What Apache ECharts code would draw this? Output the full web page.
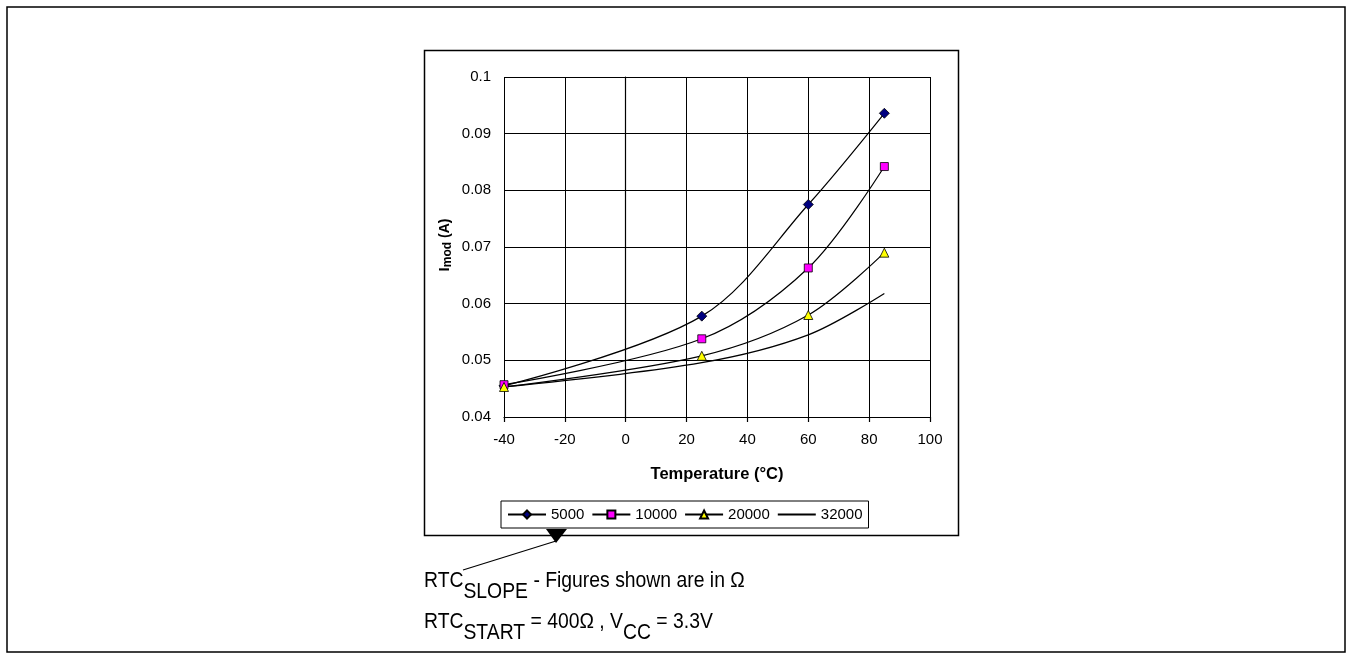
<!DOCTYPE html>
<html><head><meta charset="utf-8">
<script src="https://cdn.jsdelivr.net/npm/echarts@6/dist/echarts.min.js"></script>
<style>html,body{margin:0;padding:0;background:#fff}#c{width:1352px;height:660px}</style>
</head><body><div id="c"></div>
<script>
const temps = [-40, 25, 60, 85];
const s5000 = [0.0455, 0.0578, 0.0775, 0.0936];
const s10000 = [0.0457, 0.0538, 0.0663, 0.0842];
const s20000 = [0.0453, 0.0508, 0.0580, 0.0690];
const s32000 = [0.0453, 0.0496, 0.0545, 0.0618];
const seriesNames = ['5000', '10000', '20000', '32000'];
const xTicks = [-40, -20, 0, 20, 40, 60, 80, 100];
const yTicks = [0.04, 0.05, 0.06, 0.07, 0.08, 0.09, 0.1];

const FONT = '"Liberation Sans", Arial, sans-serif';
const pairs = arr => temps.map((t, i) => [t, arr[i]]);

const chart = echarts.init(document.getElementById('c'), null, {renderer: 'canvas'});
const lineStyle = {color: '#000', width: 1.2};
function mk(name, data, symbol, size, fill) {
  const hidden = symbol === 'none';
  return {
    name, type: 'line', data: pairs(data), smooth: 0.33,
    symbol: hidden ? 'circle' : symbol, symbolSize: hidden ? 0.1 : size, showSymbol: !hidden,
    itemStyle: hidden ? {color: 'rgba(0,0,0,0)', borderWidth: 0, opacity: 0}
                      : {color: fill, borderColor: '#000', borderWidth: 0.8},
    lineStyle, emphasis: {disabled: true}, animation: false, z: 3
  };
}
const subText = (y, sx, text) => ({
  type: 'text', x: 424, y, scaleX: sx,
  style: {
    text, verticalAlign: 'middle', fill: '#000',
    rich: {
      m: {fontSize: 22, fontFamily: FONT, lineHeight: 24, verticalAlign: 'top'},
      s: {fontSize: 22, fontFamily: FONT, lineHeight: 24, padding: [11, 0, 0, 0], verticalAlign: 'top'}
    }
  }, z: 5
});
const option = {
  animation: false,
  backgroundColor: '#fff',
  grid: {left: 504, top: 77, right: 422, bottom: 243, containLabel: false},
  xAxis: {
    type: 'value', min: -40, max: 100, interval: 20,
    axisLine: {show: true, lineStyle: {color: '#000', width: 1.2}},
    axisTick: {show: true, length: 5, lineStyle: {color: '#000', width: 1.2}},
    splitLine: {show: true, lineStyle: {color: '#000', width: 1}},
    axisLabel: {color: '#000', fontFamily: FONT, fontSize: 15, margin: 15,
      formatter: v => xTicks.includes(v) ? String(v) : ''},
    name: 'Temperature (°C)', nameLocation: 'middle', nameGap: 49,
    nameTextStyle: {color: '#000', fontFamily: FONT, fontSize: 16.5, fontWeight: 'bold'}
  },
  yAxis: {
    type: 'value', min: 0.04, max: 0.1, interval: 0.01,
    axisLine: {show: true, lineStyle: {color: '#000', width: 1.2}},
    axisTick: {show: false},
    splitLine: {show: true, lineStyle: {color: '#000', width: 1}},
    axisLabel: {color: '#000', fontFamily: FONT, fontSize: 15, margin: 13,
      formatter: v => { const t = yTicks.find(k => Math.abs(k - v) < 1e-9); return t === undefined ? '' : String(t); }}
  },
  legend: {
    show: true, left: 501, top: 501, orient: 'horizontal',
    data: seriesNames,
    itemWidth: 38, itemHeight: 10, itemGap: 7,
    padding: [6, 6, 6, 6],
    borderColor: '#000', borderWidth: 1,
    textStyle: {color: '#000', fontFamily: FONT, fontSize: 15},
    selectedMode: false
  },
  series: [
    mk('5000', s5000, 'diamond', 10, '#000080'),
    mk('10000', s10000, 'rect', 8, '#ff00ff'),
    mk('20000', s20000, 'triangle', 9, '#ffff00'),
    mk('32000', s32000, 'none', 0, null)
  ],
  graphic: [
    {type: 'rect', shape: {x: 7, y: 7, width: 1338, height: 645}, style: {fill: 'none', stroke: '#000', lineWidth: 1.5}, z: 0, silent: true},
    {type: 'rect', shape: {x: 424.5, y: 50.5, width: 534, height: 485}, style: {fill: 'none', stroke: '#000', lineWidth: 1.5}, z: 0, silent: true},
    {type: 'text', x: 445, y: 245, rotation: Math.PI / 2,
      style: {
        text: '{i|I}{s|mod}{n| (A)}', align: 'center', verticalAlign: 'middle',
        fill: '#000', fontFamily: FONT, fontWeight: 'bold',
        rich: {
          i: {fontSize: 15, fontWeight: 'bold', fontFamily: FONT, lineHeight: 18, verticalAlign: 'middle'},
          s: {fontSize: 12, fontWeight: 'bold', fontFamily: FONT, lineHeight: 18, padding: [9, 0, 0, 0], verticalAlign: 'bottom'},
          n: {fontSize: 14, fontWeight: 'bold', fontFamily: FONT, lineHeight: 18, verticalAlign: 'middle'}
        }
      }, z: 5},
    {type: 'line', shape: {x1: 463, y1: 570, x2: 556, y2: 541}, style: {stroke: '#000', lineWidth: 1.2}, z: 5, silent: true},
    {type: 'polygon', shape: {points: [[546, 529], [567, 529], [556, 543]]}, style: {fill: '#000'}, z: 5, silent: true},
    subText(581.5, 0.88, '{m|RTC}{s|SLOPE}{m| - Figures shown are in Ω}'),
    subText(623, 0.88, '{m|RTC}{s|START}{m| = 400Ω , V}{s|CC}{m| = 3.3V}')
  ]
};
chart.setOption(option);
</script></body></html>
